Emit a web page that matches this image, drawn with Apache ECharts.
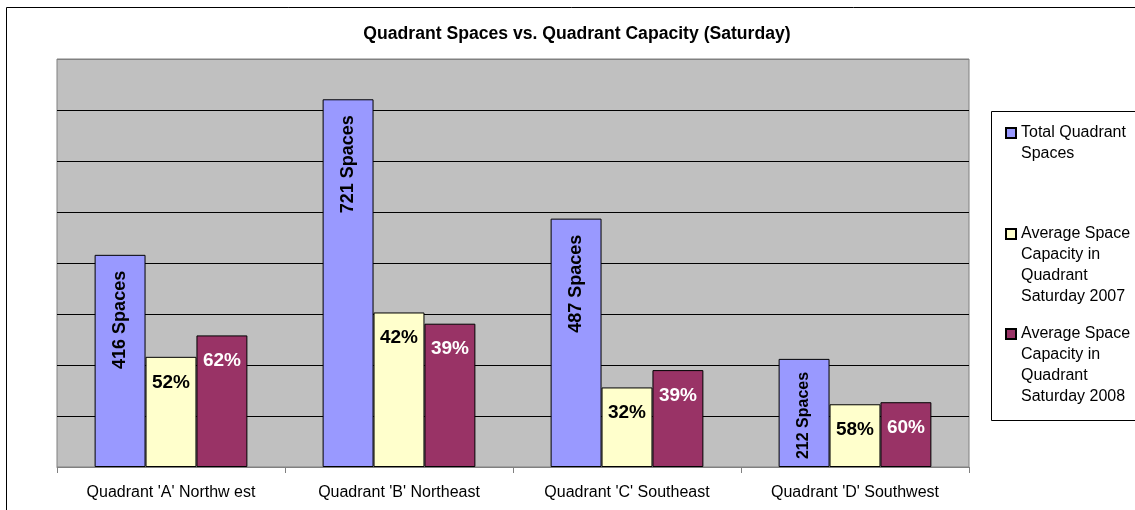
<!DOCTYPE html>
<html>
<head>
<meta charset="utf-8">
<script src="https://cdn.jsdelivr.net/npm/echarts@6/dist/echarts.min.js"></script>
<style>
  html, body { margin: 0; padding: 0; background: #fff; }
  #chart { width: 1135px; height: 510px; }
</style>
</head>
<body>
<div id="chart"></div>
<script>
// quadrants on the x axis
var quadrants = ["Quadrant 'A' Northw est", "Quadrant 'B' Northeast", "Quadrant 'C' Southeast", "Quadrant 'D' Southwest"];
// total spaces per quadrant
var totalSpaces = [416, 721, 487, 212];
// bar heights (occupied spaces)
var sat2007 = [216, 303, 156, 123];
var sat2008 = [258, 281, 190, 127];
// percent labels shown on the bars
var pct2007 = ['52%', '42%', '32%', '58%'];
var pct2008 = ['62%', '39%', '39%', '60%'];

var FONT = 'Liberation Sans, Arial, sans-serif';
var names = ['Total Quadrant\nSpaces',
             'Average Space\nCapacity in\nQuadrant\nSaturday 2007',
             'Average Space\nCapacity in\nQuadrant\nSaturday 2008'];
var LH = 20.7;

// one legend per item so the uneven spacing can be matched;
// blank lines in front push the first text line level with the icon
function legendFor(name, lines, top) {
    return {
        data: [name],
        left: 1005,
        top: top,
        padding: 0,
        itemWidth: 10,
        itemHeight: 10,
        itemGap: 0,
        icon: 'rect',
        selectedMode: false,
        formatter: function (n) { return new Array(lines).join('\n') + n; },
        textStyle: { fontFamily: FONT, fontSize: 16, color: '#000', lineHeight: LH }
    };
}

var chart = echarts.init(document.getElementById('chart'));
chart.setOption({
    animation: false,
    backgroundColor: '#fff',
    title: {
        text: 'Quadrant Spaces vs. Quadrant Capacity (Saturday)',
        left: 577,
        top: 25,
        padding: 0,
        textAlign: 'center',
        textStyle: { fontFamily: FONT, fontSize: 17.6, fontWeight: 'bold', color: '#000' }
    },
    legend: [
        legendFor(names[0], 2, 133 - 1.5 * LH),
        legendFor(names[1], 4, 234 - 3.5 * LH),
        legendFor(names[2], 4, 334 - 3.5 * LH)
    ],
    graphic: [
        { type: 'rect', shape: { x: 6.5, y: 7.5, width: 1200, height: 600 },
          style: { fill: 'none', stroke: '#000', lineWidth: 1 }, z: -1 },
        { type: 'rect', shape: { x: 991.5, y: 111.5, width: 200, height: 309 },
          style: { fill: 'none', stroke: '#000', lineWidth: 1 }, z: -1 }
    ],
    grid: {
        left: 57, right: 166, top: 59, bottom: 43,
        show: true,
        backgroundColor: '#C0C0C0',
        borderColor: '#808080',
        borderWidth: 1
    },
    xAxis: {
        type: 'category',
        data: quadrants,
        axisLine: { lineStyle: { color: '#808080', width: 1 } },
        axisTick: { show: true, length: 6, lineStyle: { color: '#808080' } },
        axisLabel: { fontFamily: FONT, fontSize: 16, color: '#000', margin: 18 }
    },
    yAxis: {
        type: 'value',
        min: 0,
        max: 800,
        interval: 100,
        axisLine: { show: false },
        axisTick: { show: false },
        axisLabel: { show: false },
        splitLine: {
            lineStyle: {
                color: ['#808080', '#000', '#000', '#000', '#000', '#000', '#000', '#000', '#808080'],
                width: 1
            }
        }
    },
    series: [
        {
            name: names[0],
            type: 'bar',
            barGap: '0%',
            barCategoryGap: '33%',
            data: totalSpaces.map(function (v, i) {
                return {
                    value: v,
                    label: i === 3 ? { fontSize: 16, distance: 13 } : {}
                };
            }),
            itemStyle: { color: '#9999FF', borderColor: '#000', borderWidth: 1 },
            label: {
                show: true,
                position: 'insideTop',
                distance: 16,
                rotate: 90,
                align: 'right',
                verticalAlign: 'middle',
                fontFamily: FONT, fontSize: 18, fontWeight: 'bold', color: '#000',
                formatter: function (p) { return p.value + ' Spaces'; }
            }
        },
        {
            name: names[1],
            type: 'bar',
            data: sat2007,
            itemStyle: { color: '#FFFFCC', borderColor: '#000', borderWidth: 1 },
            label: {
                show: true,
                position: 'insideTop',
                distance: 16,
                fontFamily: FONT, fontSize: 19, fontWeight: 'bold', color: '#000',
                formatter: function (p) { return pct2007[p.dataIndex]; }
            }
        },
        {
            name: names[2],
            type: 'bar',
            data: sat2008,
            itemStyle: { color: '#993366', borderColor: '#000', borderWidth: 1 },
            label: {
                show: true,
                position: 'insideTop',
                distance: 16,
                fontFamily: FONT, fontSize: 19, fontWeight: 'bold', color: '#fff',
                formatter: function (p) { return pct2008[p.dataIndex]; }
            }
        }
    ]
});
</script>
</body>
</html>
